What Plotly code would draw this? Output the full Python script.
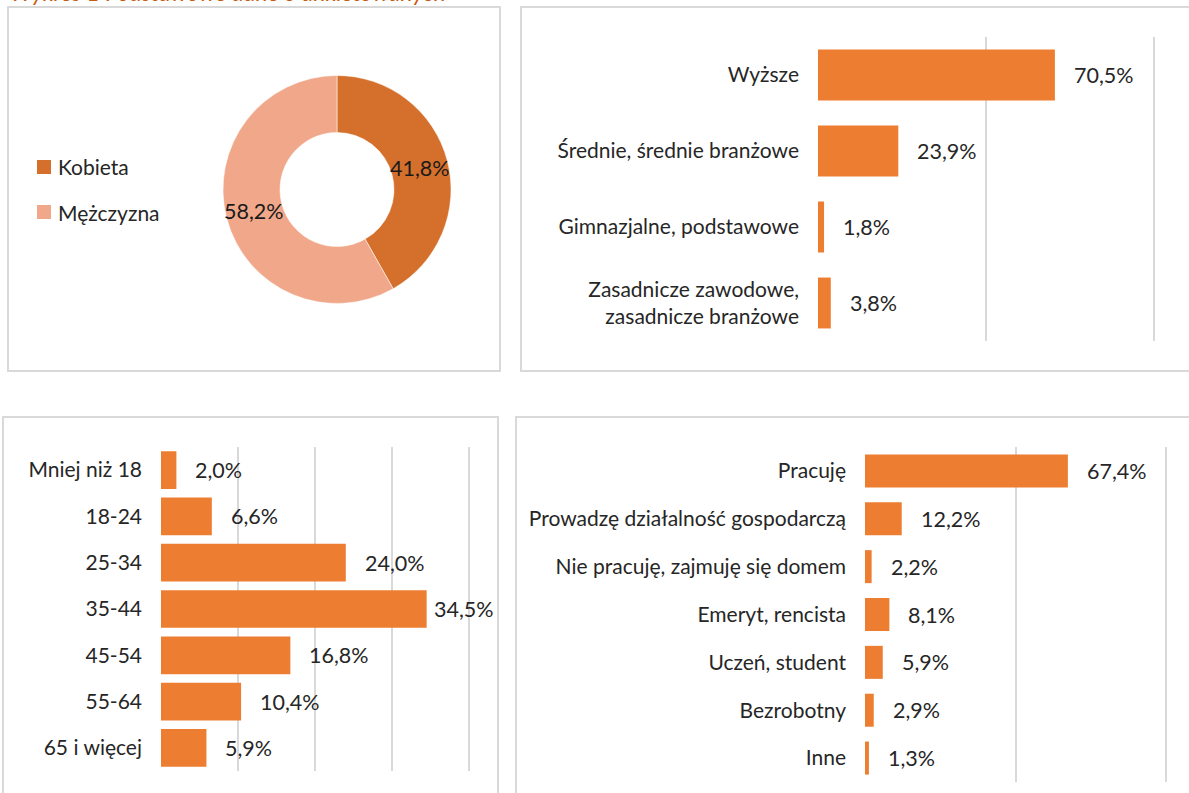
import math
import plotly.graph_objects as go

W, H = 1189, 793

# ---------------- data ----------------
title_text = "Wykres 1 Podstawowe dane o ankietowanych"

gender_labels = ["Kobieta", "Mężczyzna"]
gender_values = [41.8, 58.2]

edu_labels = ["Wyższe", "Średnie, średnie branżowe", "Gimnazjalne, podstawowe",
              "Zasadnicze zawodowe,<br>zasadnicze branżowe"]
edu_values = [70.5, 23.9, 1.8, 3.8]

age_labels = ["Mniej niż 18", "18-24", "25-34", "35-44", "45-54", "55-64", "65 i więcej"]
age_values = [2.0, 6.6, 24.0, 34.5, 16.8, 10.4, 5.9]

job_labels = ["Pracuję", "Prowadzę działalność gospodarczą", "Nie pracuję, zajmuję się domem",
              "Emeryt, rencista", "Uczeń, student", "Bezrobotny", "Inne"]
job_values = [67.4, 12.2, 2.2, 8.1, 5.9, 2.9, 1.3]

# ---------------- styles ----------------
FONT = "Lato"
TXT = "#262626"
BAR = "#ED7D31"
GRID = "#D9D9D9"
PIE_COLORS = ["#D5702C", "#F1A88A"]
FS = 21
FSV = 21.5


def fx(p):
    return p / W


def fy(p):
    return 1 - p / H


def pct(v):
    return f"{v:.1f}".replace(".", ",") + "%"


fig = go.Figure()
annotations = []
shapes = []

# ---------------- donut ----------------
cx, cy, r, hole = 337, 189.5, 114, 0.5
fig.add_trace(go.Pie(
    labels=gender_labels, values=gender_values, textinfo="none",
    hole=hole, sort=False, direction="clockwise", rotation=0,
    marker=dict(colors=PIE_COLORS, line=dict(color="white", width=0.5)),
    domain=dict(x=[fx(cx - r), fx(cx + r)], y=[fy(cy + r), fy(cy - r)]),
    showlegend=False,
))
# slice labels placed at the middle of each ring segment
total = sum(gender_values)
cum = 0.0
rm = r * (1 + hole) / 2
for v in gender_values:
    ang = 2 * math.pi * (cum + v / 2) / total
    cum += v
    px_, py_ = cx + rm * math.sin(ang), cy - rm * math.cos(ang)
    annotations.append(dict(x=fx(px_), y=fy(py_), xref="paper", yref="paper",
                            text=pct(v), showarrow=False, xanchor="center", yanchor="middle",
                            font=dict(family=FONT, size=FSV, color="#1a1a1a")))

# ---------------- bar panels ----------------
panels = [
    # (labels, values, axis suffix, x px domain, y px domain, range max, tick step, bar width)
    (edu_labels, edu_values, "2", (818, 1154), (37, 341), 100, 50, 0.67),
    (age_labels, age_values, "3", (161, 469), (447, 771), 40, 10, 0.815),
    (job_labels, job_values, "4", (865, 1166), (447, 782), 100, 50, 0.69),
]

EXT = 1.02  # extend the axis a little so the last grid line is drawn
layout_axes = {}
for labels, values, s, (x0, x1), (y0, y1), rmax, step, bw in panels:
    fig.add_trace(go.Bar(
        x=values, y=labels, orientation="h", width=bw,
        marker=dict(color=BAR, line=dict(width=0)),
        xaxis="x" + s, yaxis="y" + s, showlegend=False,
        hoverinfo="x+y",
    ))
    x1e = x0 + (x1 - x0) * EXT
    layout_axes["xaxis" + s] = dict(
        domain=[fx(x0), min(1.0, fx(x1e))], range=[0, rmax * EXT], anchor="y" + s,
        tickvals=list(range(0, rmax + 1, step)), showticklabels=False,
        showgrid=True, gridcolor=GRID, gridwidth=2, zeroline=False, showline=False,
        fixedrange=True,
    )
    if fx(x1e) > 1.0:
        layout_axes["xaxis" + s]["range"] = [0, rmax * (W - x0) / (x1 - x0)]
    layout_axes["yaxis" + s] = dict(
        domain=[fy(y1), fy(y0)], anchor="x" + s, type="category",
        autorange="reversed", showgrid=False, zeroline=False, showline=False,
        ticks="", ticklabelstandoff=18,
        tickfont=dict(family=FONT, size=FS, color=TXT),
        fixedrange=True,
    )
    for lab, v in zip(labels, values):
        shift = 17 if v < 0.85 * rmax else 5
        annotations.append(dict(
            x=v, y=lab, xref="x" + s, yref="y" + s, text=pct(v),
            showarrow=False, xanchor="left", xshift=shift,
            font=dict(family=FONT, size=FSV, color=TXT),
        ))

# ---------------- manual legend for donut ----------------
leg_y = [167, 212]
for lab, col, ly in zip(gender_labels, PIE_COLORS, leg_y):
    shapes.append(dict(type="rect", xref="paper", yref="paper",
                       x0=fx(37), x1=fx(51), y0=fy(ly + 7), y1=fy(ly - 7),
                       fillcolor=col, line=dict(width=0)))
    annotations.append(dict(x=fx(56), y=fy(ly), xref="paper", yref="paper",
                            text=lab, showarrow=False, xanchor="left", yanchor="middle",
                            font=dict(family=FONT, size=FS, color=TXT)))

# ---------------- panel frames ----------------
frames = [(8, 7, 500, 371), (521, 7, 1200, 371), (3, 417, 498, 800), (516, 417, 1200, 800)]
for a, b, c, d in frames:
    shapes.append(dict(type="rect", xref="paper", yref="paper",
                       x0=fx(a), x1=fx(c), y0=fy(d), y1=fy(b),
                       line=dict(color=GRID, width=2), fillcolor="rgba(0,0,0,0)",
                       layer="below"))

# ---------------- title (cut off at the top) ----------------
annotations.append(dict(x=fx(8), y=1, xref="paper", yref="paper", text=title_text,
                        showarrow=False, xanchor="left", yanchor="middle", yshift=8,
                        font=dict(family=FONT, size=23, color="#C55A11", style="italic")))

fig.update_layout(
    width=W, height=H,
    margin=dict(l=0, r=0, t=0, b=0),
    paper_bgcolor="white", plot_bgcolor="rgba(0,0,0,0)",
    font=dict(family=FONT, size=FS, color=TXT),
    annotations=annotations, shapes=shapes,
    **layout_axes,
)
fig.update_layout(xaxis=dict(visible=False), yaxis=dict(visible=False))

fig.write_html("out.html", config={"displayModeBar": False},
               post_script="document.body.style.margin='0px';")
